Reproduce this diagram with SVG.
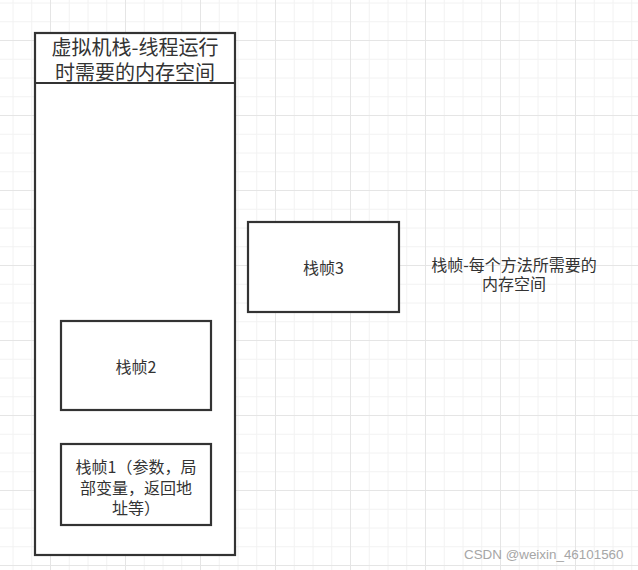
<svg xmlns="http://www.w3.org/2000/svg" width="638" height="570" viewBox="0 0 638 570">
<defs>
<pattern id="grid" x="50" y="40" width="75" height="75" patternUnits="userSpaceOnUse">
<path d="M19.25 0V75M38 0V75M56.75 0V75M0 19.25H75M0 38H75M0 56.75H75" stroke="#f2f2f2" stroke-width="1" fill="none"/>
<path d="M0.5 0V75M0 0.5H75" stroke="#e5e5e5" stroke-width="1" fill="none"/>
</pattern>
</defs>
<style>
.box{fill:#ffffff;stroke:#333333;stroke-width:2.2}
.t{font-family:"Noto Sans CJK SC","Microsoft YaHei",sans-serif;fill:#333333;text-anchor:middle;dominant-baseline:central}
.t16{font-size:16px}
.t20{font-size:20px}
.wm{font-family:"Liberation Sans",Arial,sans-serif;font-size:13.4px;fill:#a6a6a6;text-anchor:end;dominant-baseline:central}
</style>
<rect x="0" y="0" width="638" height="570" fill="#ffffff"/>
<rect x="0" y="0" width="638" height="570" fill="url(#grid)"/>
<g id="connectors"></g>
<g id="vm-stack">
<rect class="box" x="35" y="33" width="200" height="522"/>
<line x1="35" y1="83" x2="235" y2="83" stroke="#333333" stroke-width="2.2"/>
<text class="t t20"><tspan x="135" y="46">虚拟机栈-线程运行</tspan><tspan x="135" y="70.5">时需要的内存空间</tspan></text>
</g>
<g id="frame2">
<rect class="box" x="61" y="321" width="150" height="89"/>
<text class="t t16" x="136" y="366">栈帧2</text>
</g>
<g id="frame1">
<rect class="box" x="61" y="444" width="150" height="81"/>
<text class="t t16"><tspan x="136" y="466">栈帧1（参数，局</tspan><tspan x="136" y="486.5">部变量，返回地</tspan><tspan x="136" y="507">址等）</tspan></text>
</g>
<g id="frame3">
<rect class="box" x="248" y="222" width="151" height="90"/>
<text class="t t16" x="323.5" y="267">栈帧3</text>
</g>
<g id="label">
<text class="t t16"><tspan x="514" y="263.5">栈帧-每个方法所需要的</tspan><tspan x="514" y="283">内存空间</tspan></text>
</g>
<text class="wm" x="623.5" y="554">CSDN @weixin_46101560</text>
</svg>
